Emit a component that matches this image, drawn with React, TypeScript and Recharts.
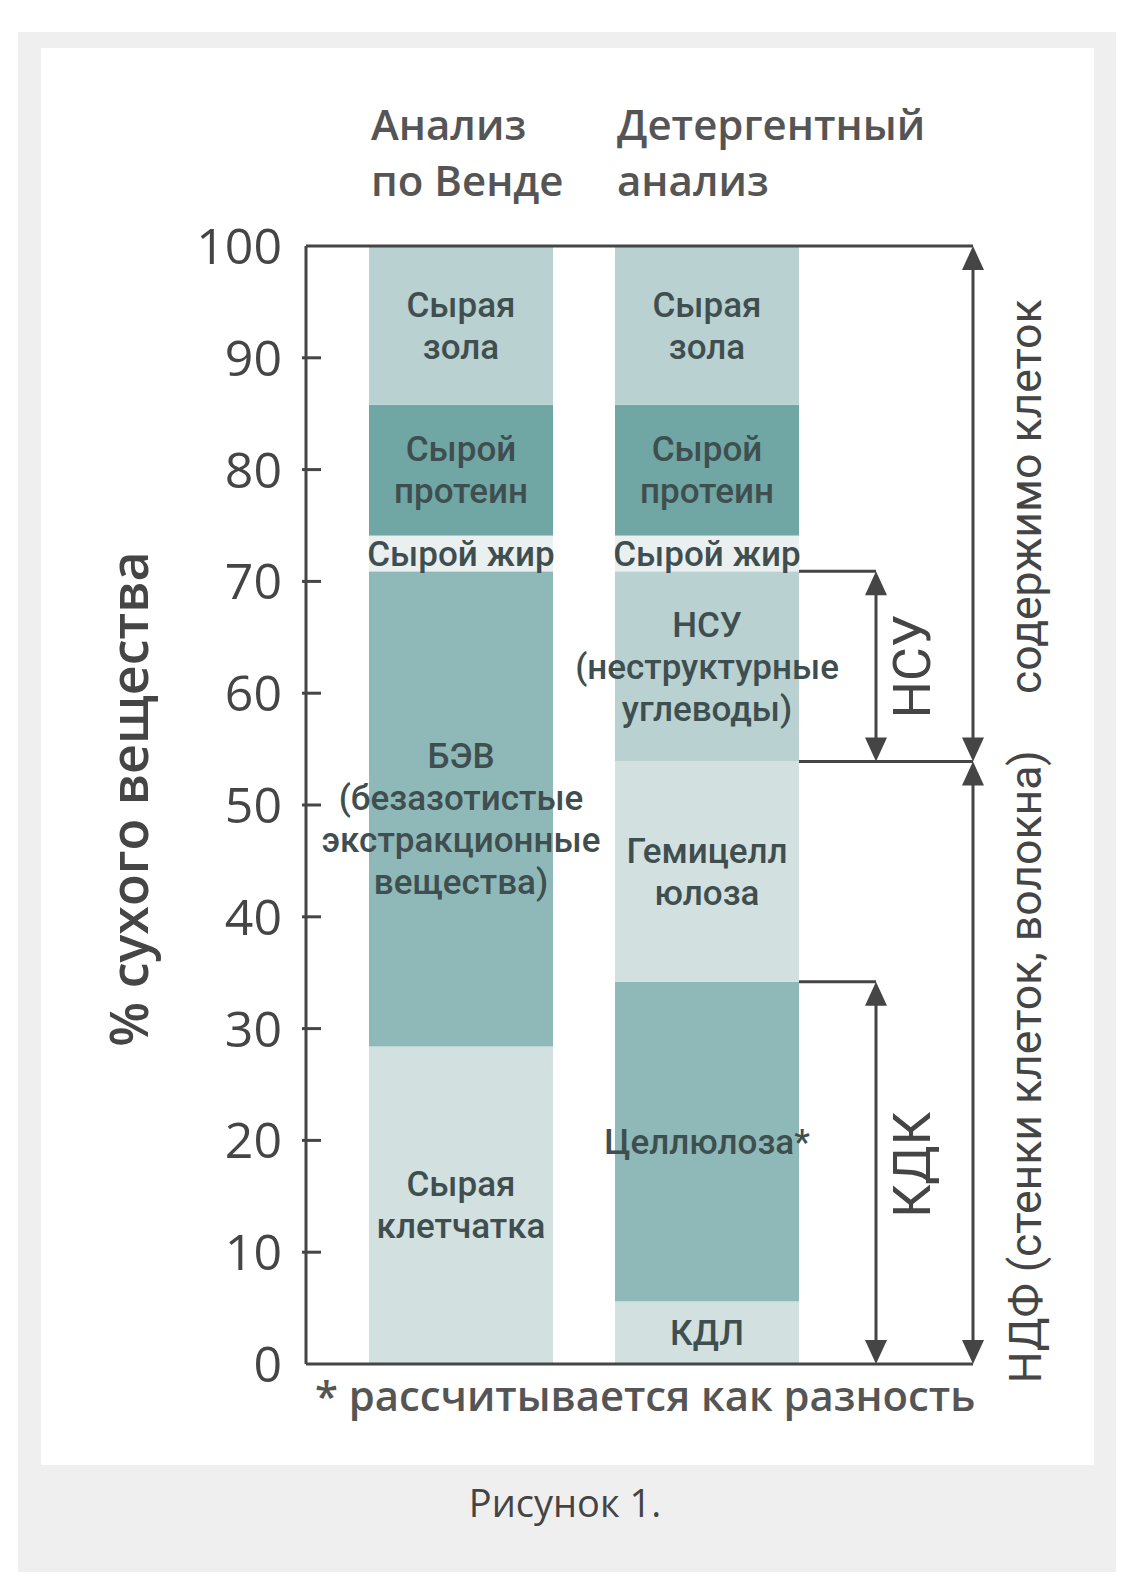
import React from 'react'
import { BarChart, Bar, XAxis, YAxis, ReferenceLine, ReferenceArea } from 'recharts'

const categories = ['Анализ по Венде', 'Детергентный анализ']
const headers = [['Анализ', 'по Венде'], ['Детергентный', 'анализ']]

// % сухого вещества, снизу вверх; 0 — фракции нет в этом анализе
const crudeFiber = [28.4, 0]
const nfe = [42.5, 0]
const adl = [0, 5.6]
const cellulose = [0, 28.6]
const hemicellulose = [0, 19.7]
const nsc = [0, 17.0]
const crudeFat = [3.2, 3.2]
const crudeProtein = [11.7, 11.7]
const crudeAsh = [14.2, 14.2]

const yTicks = [0, 10, 20, 30, 40, 50, 60, 70, 80, 90, 100]

const crudeFiberText = [['Сырая', 'клетчатка'], []]
const nfeText = [['БЭВ', '(безазотистые', 'экстракционные', 'вещества)'], []]
const adlText = [[], ['КДЛ']]
const celluloseText = [[], ['Целлюлоза*']]
const hemicelluloseText = [[], ['Гемицелл', 'юлоза']]
const nscText = [[], ['НСУ', '(неструктурные', 'углеводы)']]
const crudeFatText = [['Сырой жир'], ['Сырой жир']]
const crudeProteinText = [['Сырой', 'протеин'], ['Сырой', 'протеин']]
const crudeAshText = [['Сырая', 'зола'], ['Сырая', 'зола']]

// layout
const W = 1140
const H = 1592
const PLOT_LEFT = 306
const PLOT_TOP = 246
const PLOT_RIGHT = 973
const PLOT_BOTTOM = 1364
const Y_W = 100
const X_H = 30
const PAD_L = 32
const PAD_R = 143
const BAR_W = 184
const BAND = (PLOT_RIGHT - PLOT_LEFT - PAD_L - PAD_R) / 2
const BAR2_RIGHT = PLOT_LEFT + PAD_L + BAND * 1.5 + BAR_W / 2
const SMALL_X = 876
const BIG_X = PLOT_RIGHT
const INK = '#454545'
const LABEL_INK = '#3f4e4f'
const SANS = '"Open Sans", sans-serif'
const ROBOTO = 'Roboto, sans-serif'

const series = [
  { key: 'crudeFiber', values: crudeFiber, text: crudeFiberText, fill: '#d3e0e0', dy: 0 },
  { key: 'nfe', values: nfe, text: nfeText, fill: '#8fb8b8', dy: 10 },
  { key: 'adl', values: adl, text: adlText, fill: '#d3e0e0', dy: 0 },
  { key: 'cellulose', values: cellulose, text: celluloseText, fill: '#8fb8b8', dy: 0 },
  { key: 'hemicellulose', values: hemicellulose, text: hemicelluloseText, fill: '#d3e0e0', dy: 0 },
  { key: 'nsc', values: nsc, text: nscText, fill: '#b9d1d0', dy: 0 },
  { key: 'crudeFat', values: crudeFat, text: crudeFatText, fill: '#eaf0f0', dy: 0 },
  { key: 'crudeProtein', values: crudeProtein, text: crudeProteinText, fill: '#70a6a4', dy: 0 },
  { key: 'crudeAsh', values: crudeAsh, text: crudeAshText, fill: '#b9d1d0', dy: 0 },
]

const rows = categories.map((name, i) => {
  const row: Record<string, any> = { name, idx: i }
  series.forEach(s => { row[s.key] = s.values[i] })
  return row
})

const adfTop = adl[1] + cellulose[1]
const ndfTop = adfTop + hemicellulose[1]
const nscTop = ndfTop + nsc[1]

function Segment(p: any) {
  const { x, y, width, height, fill, lines, shift } = p
  if (!height || height <= 0) return <g />
  const cx = x + width / 2
  const cy = y + height / 2 + (shift || 0)
  const n = lines.length
  return (
    <g>
      <rect x={x} y={y} width={width} height={height} fill={fill} />
      {lines.map((t: string, k: number) => (
        <text key={k} x={cx} y={cy + (k - (n - 1) / 2) * 42} dy="0.35em" textAnchor="middle"
          fontFamily={ROBOTO} fontWeight={500} fontSize={35} fill={LABEL_INK}>{t}</text>
      ))}
    </g>
  )
}

function YTick(p: any) {
  const { x, y, payload } = p
  const v = payload.value
  return (
    <g>
      {v > 0 && v < 100 && <line x1={x - 4} x2={x + 15} y1={y} y2={y} stroke={INK} strokeWidth={3} />}
      <text x={x - 24} y={y} dy="0.36em" textAnchor="end" fontFamily={SANS} fontSize={50} fill={INK}>{v}</text>
    </g>
  )
}

function HeaderTick(p: any) {
  const { x, payload } = p
  const i = categories.indexOf(payload.value)
  const lines = headers[i] || []
  return (
    <g>
      {lines.map((t, k) => (
        <text key={k} x={x - BAR_W / 2 + 2} y={PLOT_TOP - 106 + k * 56} textAnchor="start"
          fontFamily={SANS} fontWeight={600} fontSize={42} fill="#555">{t}</text>
      ))}
    </g>
  )
}

function DoubleArrow({ x, top, bottom, text, tx, size, dy = 0 }: any) {
  const h = 24
  const w = 11
  const cy = (top + bottom) / 2 + dy
  return (
    <g>
      <line x1={x} x2={x} y1={top + h - 2} y2={bottom - h + 2} stroke={INK} strokeWidth={3} />
      <polygon points={`${x},${top} ${x - w},${top + h} ${x + w},${top + h}`} fill={INK} />
      <polygon points={`${x},${bottom} ${x - w},${bottom - h} ${x + w},${bottom - h}`} fill={INK} />
      <text x={tx} y={cy} transform={`rotate(-90 ${tx} ${cy})`} textAnchor="middle" dominantBaseline="central"
        fontFamily={ROBOTO} fontSize={size} fill={INK}>{text}</text>
    </g>
  )
}

function Bracket(p: any, x2: number) {
  return <line x1={BAR2_RIGHT} x2={x2} y1={p.y1} y2={p.y1} stroke={INK} strokeWidth={3} />
}

export default function App() {
  return (
    <div style={{ position: 'absolute', left: 0, top: 0, width: W, height: H, background: '#fff' }}>
      <div style={{ position: 'absolute', left: 18, top: 32, width: 1098, height: 1540, background: '#efefef' }} />
      <div style={{ position: 'absolute', left: 41, top: 48, width: 1053, height: 1417, background: '#fff' }} />
      <div style={{ position: 'absolute', left: 0, top: 0 }}>
        <BarChart width={W} height={H} data={rows}
          margin={{ top: PLOT_TOP - X_H, right: W - PLOT_RIGHT, bottom: H - PLOT_BOTTOM, left: PLOT_LEFT - Y_W }}>
          <XAxis dataKey="name" type="category" orientation="top" height={X_H} axisLine={false} tickLine={false}
            tickSize={0} tickMargin={0} interval={0} padding={{ left: PAD_L, right: PAD_R }}
            tick={(p: any) => <HeaderTick {...p} />} />
          <YAxis type="number" domain={[0, 100]} ticks={yTicks} interval={0} width={Y_W}
            axisLine={{ stroke: INK, strokeWidth: 3 }} tickLine={false} tickSize={0} tickMargin={0}
            tick={(p: any) => <YTick {...p} />}
            label={{
              content: (lp: any) => {
                const vb = lp.viewBox || {}
                const cx = 127
                const cy = (vb.y ?? PLOT_TOP) + (vb.height ?? PLOT_BOTTOM - PLOT_TOP) / 2 - 6
                return (
                  <text x={cx} y={cy} transform={`rotate(-90 ${cx} ${cy})`} textAnchor="middle"
                    dominantBaseline="central" fontFamily={SANS} fontWeight={600} fontSize={52} fill={INK}>
                    % сухого вещества
                  </text>
                )
              },
            }} />
          {series.map(s => (
            <Bar key={s.key} dataKey={s.key} stackId="a" barSize={BAR_W} fill={s.fill} isAnimationActive={false}
              shape={(p: any) => {
                const i = p.payload?.idx ?? p.index ?? 0
                return <Segment {...p} fill={s.fill} lines={s.text[i] || []} shift={s.dy} />
              }} />
          ))}
          <ReferenceLine y={100} stroke={INK} strokeWidth={3} />
          <ReferenceLine y={0} stroke={INK} strokeWidth={3} />
          <ReferenceLine y={nscTop} shape={(p: any) => Bracket(p, SMALL_X)} />
          <ReferenceLine y={ndfTop} shape={(p: any) => Bracket(p, p.x2)} />
          <ReferenceLine y={adfTop} shape={(p: any) => Bracket(p, SMALL_X)} />
          <ReferenceArea y1={ndfTop} y2={nscTop} shape={(p: any) => (
            <DoubleArrow x={SMALL_X} top={p.y} bottom={p.y + p.height} text="НСУ" tx={SMALL_X + 37} size={52} />
          )} />
          <ReferenceArea y1={0} y2={adfTop} shape={(p: any) => (
            <DoubleArrow x={SMALL_X} top={p.y} bottom={p.y + p.height} text="КДК" tx={SMALL_X + 37} size={52} dy={-8} />
          )} />
          <ReferenceArea y1={ndfTop} y2={100} shape={(p: any) => (
            <DoubleArrow x={BIG_X} top={p.y} bottom={p.y + p.height} text="содержимо клеток"
              tx={BIG_X + 53} size={44.5} dy={-7} />
          )} />
          <ReferenceArea y1={0} y2={ndfTop} shape={(p: any) => (
            <DoubleArrow x={BIG_X} top={p.y} bottom={p.y + p.height} text="НДФ (стенки клеток, волокна)"
              tx={BIG_X + 53} size={44.5} dy={4} />
          )} />
        </BarChart>
      </div>
      <svg width={W} height={H} style={{ position: 'absolute', left: 0, top: 0, pointerEvents: 'none' }}>
        <text x={315} y={1411} fontFamily={SANS} fontWeight={600} fontSize={41.8} fill="#555">
          * рассчитывается как разность
        </text>
        <text x={565} y={1517} textAnchor="middle" fontFamily={SANS} fontSize={38} fill="#444">
          Рисунок 1.
        </text>
      </svg>
    </div>
  )
}
